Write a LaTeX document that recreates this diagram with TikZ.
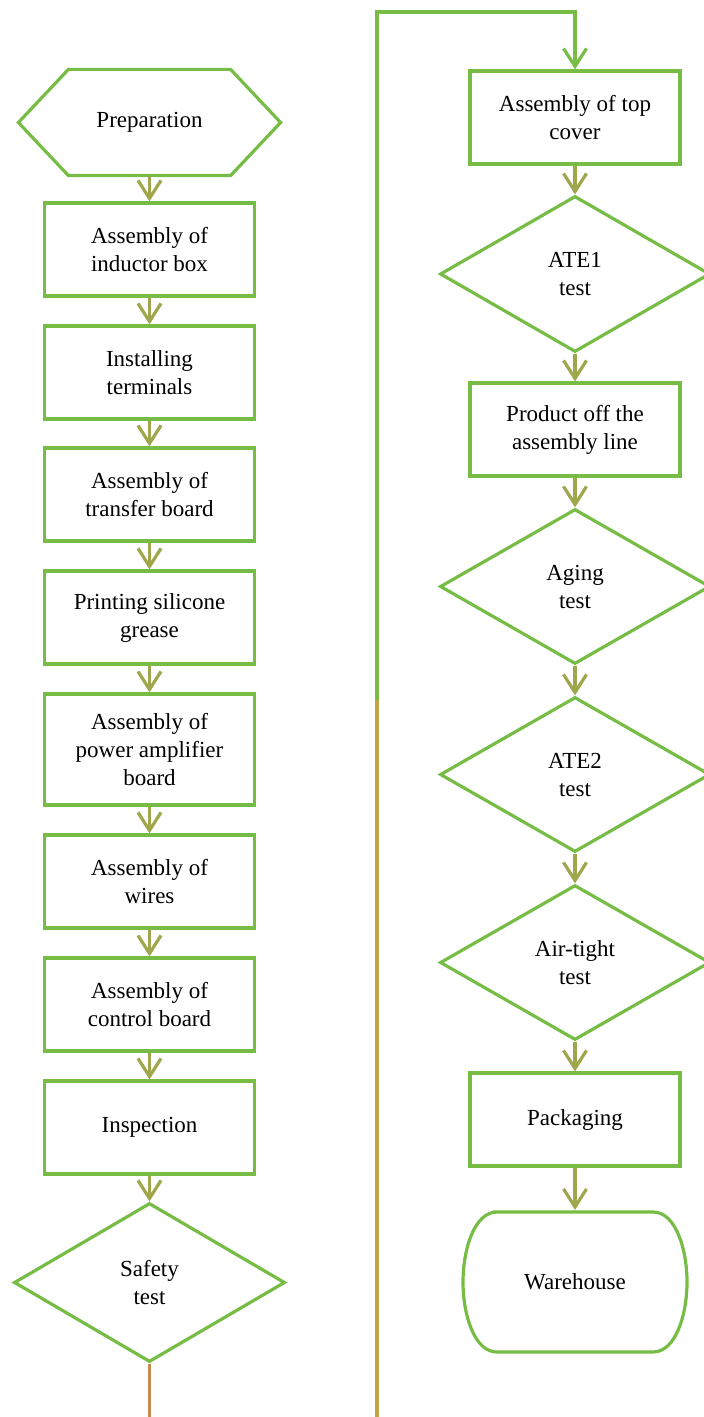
\documentclass[tikz,border=0pt]{standalone}
\usepackage{fontspec}
\setmainfont{Liberation Serif}
\usetikzlibrary{shapes.geometric,arrows.meta}
\definecolor{boxgreen}{HTML}{76BC45}
\definecolor{arrowolive}{HTML}{A0A64C}
\definecolor{goldline}{HTML}{BFA545}
\definecolor{brownline}{HTML}{C48A4E}
\tikzset{
  base/.style={font=\fontsize{11.5}{14}\selectfont, align=center, line width=1.6pt, inner sep=0pt},
  procbox/.style={base, draw=boxgreen, rectangle, minimum width=105pt, minimum height=46.5pt},
  decision/.style={base, draw=boxgreen, diamond, minimum width=135pt, minimum height=78pt},
  plain/.style={base, rectangle, minimum width=105pt, minimum height=46.5pt},
  flow/.style={draw=arrowolive, line width=1.6pt, -{Straight Barb[length=9pt,width=11.5pt]}},
  loopline/.style={draw=boxgreen, line width=1.6pt},
}
\begin{document}
\begin{tikzpicture}[x=0.5pt,y=-0.5pt]
\useasboundingbox (0,0) rectangle (703,1417);
% left column
\node[plain, minimum width=129.5pt, minimum height=51.5pt] (prep) at (149.5,122.5) {Preparation};
\draw[boxgreen, line width=1.6pt, line join=miter]
  (prep.west) -- ([xshift=25pt]prep.north west) -- ([xshift=-25pt]prep.north east)
  -- (prep.east) -- ([xshift=-25pt]prep.south east) -- ([xshift=25pt]prep.south west) -- cycle;
\node[procbox] (b1) at (149.5,249.5) {Assembly of\\inductor box};
\node[procbox] (b2) at (149.5,372.5) {Installing\\terminals};
\node[procbox] (b3) at (149.5,494.5) {Assembly of\\transfer board};
\node[procbox] (b4) at (149.5,617.5) {Printing silicone\\grease};
\node[procbox, minimum height=55.5pt] (b5) at (149.5,749.5) {Assembly of\\power amplifier\\board};
\node[procbox] (b6) at (149.5,881.5) {Assembly of\\wires};
\node[procbox] (b7) at (149.5,1004.5) {Assembly of\\control board};
\node[procbox] (b8) at (149.5,1127.5) {Inspection};
\node[decision, minimum width=135.5pt, minimum height=79.5pt] (safety) at (149.5,1282.5) {Safety\\test};
\coordinate (leftend) at (149.5,1417);
% right column
\node[procbox] (top) at (575,117.5) {Assembly of top\\cover};
\node[decision] (ate1) at (575,274) {ATE1\\test};
\node[procbox] (prod) at (575,429.5) {Product off the\\assembly line};
\node[decision, minimum height=77.5pt] (aging) at (575,586.5) {Aging\\test};
\node[decision, minimum height=77.5pt] (ate2) at (575,774.5) {ATE2\\test};
\node[decision, minimum height=77.5pt] (air) at (575,962.5) {Air-tight\\test};
\node[procbox] (pack) at (575,1119.5) {Packaging};
\node[plain, minimum width=112pt, minimum height=70pt] (ware) at (575,1281.5) {Warehouse};
\draw[boxgreen, line width=1.6pt]
  (493,1212) -- (653,1212) .. controls (676,1212) and (687,1250) .. (687,1282)
  .. controls (687,1314) and (676,1352) .. (653,1352) -- (497,1352)
  .. controls (474,1352) and (463,1314) .. (463,1282)
  .. controls (463,1250) and (474,1212) .. (497,1212) -- cycle;
% connectors
\draw[flow] (prep.south) -- (b1.north);
\draw[flow] (b1.south) -- (b2.north);
\draw[flow] (b2.south) -- (b3.north);
\draw[flow] (b3.south) -- (b4.north);
\draw[flow] (b4.south) -- (b5.north);
\draw[flow] (b5.south) -- (b6.north);
\draw[flow] (b6.south) -- (b7.north);
\draw[flow] (b7.south) -- (b8.north);
\draw[flow] (b8.south) -- (safety.north);
\draw[draw=brownline, line width=1.6pt] (safety.south) -- (leftend);
\coordinate (loopstart) at (377,1417);
\coordinate (loopmid) at (377,700);
\coordinate (looptop) at (377,12);
\draw[draw=goldline, line width=1.6pt] (loopstart) -- (loopmid);
\draw[loopline, -{Straight Barb[length=9pt,width=11.5pt]}] (loopmid) -- (looptop) -| (top.north);
\draw[flow] (top.south) -- (ate1.north);
\draw[flow] (ate1.south) -- (prod.north);
\draw[flow] (prod.south) -- (aging.north);
\draw[flow] (aging.south) -- (ate2.north);
\draw[flow] (ate2.south) -- (air.north);
\draw[flow] (air.south) -- (pack.north);
\draw[flow] (pack.south) -- (ware.north);
\end{tikzpicture}
\end{document}
